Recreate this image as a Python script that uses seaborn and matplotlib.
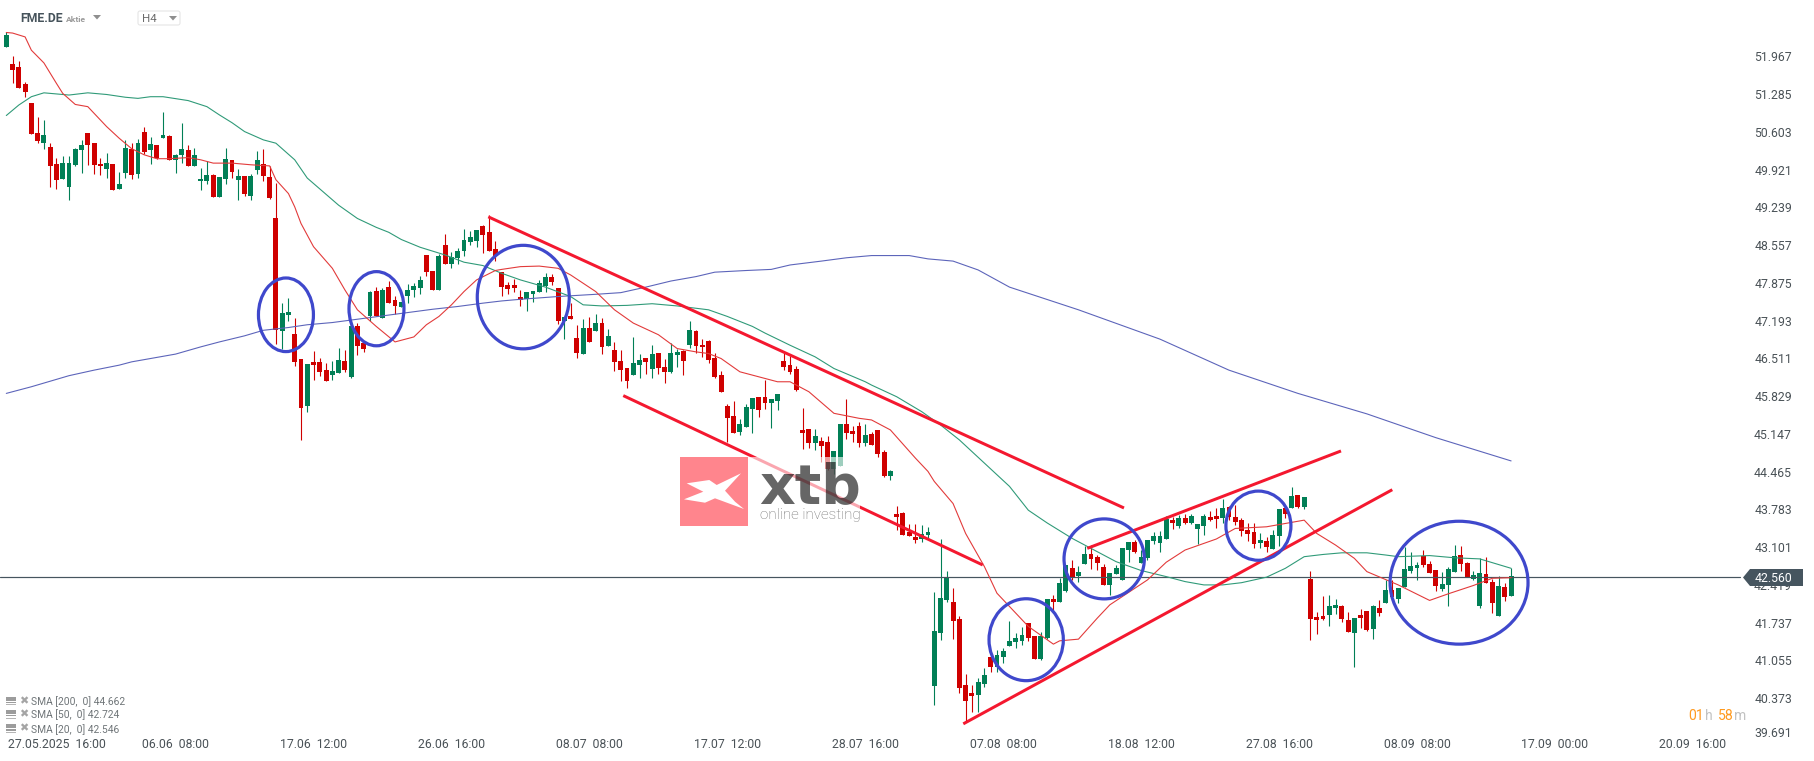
import matplotlib
matplotlib.use("Agg")
import matplotlib.pyplot as plt
import matplotlib.transforms as mtransforms
from matplotlib.patches import Ellipse, Polygon, Rectangle, FancyBboxPatch
import numpy as np
import pandas as pd
import seaborn as sns

WIDTH, HEIGHT = 1815, 761

opens = [
    52.14,51.83,51.78,51.47,51.13,50.58,50.41,50.33,50.03,49.75,
    49.61,50.01,50.27,50.59,50.40,50.02,49.94,50.02,49.58,49.87,
    50.30,49.85,50.60,50.27,50.37,50.50,50.53,50.10,50.19,50.28,
    49.99,49.71,49.72,49.83,49.43,49.76,50.10,49.74,49.81,49.45,
    49.92,50.02,49.79,49.05,47.01,47.30,46.95,46.50,45.66,46.45,
    46.45,46.30,46.21,46.24,46.47,46.18,47.10,46.79,47.28,47.73,
    47.25,47.80,47.57,47.44,47.64,47.75,47.78,48.38,48.09,47.75,
    48.56,48.22,48.33,48.45,48.61,48.63,48.90,48.80,48.49,48.08,
    47.84,47.84,47.62,47.58,47.67,47.71,47.82,47.98,47.78,47.19,
    47.28,46.88,46.59,47.06,47.01,47.15,46.74,46.66,46.47,46.34,
    46.21,46.39,46.52,46.32,46.61,46.36,46.27,46.57,46.65,46.75,
    47.01,46.75,46.83,46.52,46.21,45.65,45.47,45.18,45.27,45.60,
    45.82,45.82,45.71,45.74,46.47,46.39,46.32,45.22,45.24,44.98,
    45.02,45.00,44.51,44.56,45.33,45.20,45.29,44.98,45.15,45.22,
    44.82,44.39,43.70,43.72,43.38,43.29,43.25,43.32,40.60,41.55,
    42.14,42.11,41.80,40.61,40.47,40.43,40.63,41.12,40.94,41.12,
    41.32,41.39,41.41,41.73,41.50,41.08,41.46,42.17,42.11,42.31,
    42.73,42.58,42.80,42.98,42.92,42.74,42.42,42.62,42.51,43.05,
    43.20,42.82,42.91,43.21,43.18,43.25,43.59,43.48,43.63,43.54,
    43.43,43.48,43.65,43.66,43.63,43.83,43.65,43.59,43.41,43.38,
    43.18,43.21,43.07,43.30,43.81,43.81,44.04,43.83,42.53,41.84,
    41.86,41.88,42.00,42.04,41.79,41.55,41.88,41.95,41.62,42.00,
    42.09,42.33,42.17,42.38,42.67,42.73,42.94,42.80,42.69,42.35,
    42.42,42.65,42.96,42.82,42.53,42.04,42.62,42.47,41.86,42.38,42.22,
]
highs = [
    52.40,51.97,51.89,51.51,51.13,50.87,50.82,50.40,50.13,50.17,
    50.17,50.31,50.46,50.59,50.40,50.13,50.22,50.02,49.88,50.46,
    50.40,50.47,50.69,50.51,50.37,50.96,50.55,50.20,50.77,50.37,
    50.31,49.95,50.08,49.84,49.79,50.31,50.10,49.93,49.81,49.84,
    50.26,50.30,49.99,49.68,47.51,47.60,47.24,46.50,46.41,46.65,
    46.52,46.43,46.47,46.70,46.66,47.10,47.15,46.79,47.73,47.80,
    47.78,47.91,47.64,47.53,47.86,47.87,48.00,48.38,48.09,48.40,
    48.76,48.43,48.51,48.85,48.81,48.83,48.92,49.10,48.63,48.08,
    47.89,47.95,47.75,47.71,47.73,47.93,48.06,48.04,47.78,47.26,
    47.51,47.11,47.22,47.26,47.31,47.24,47.04,46.81,46.66,46.34,
    46.90,46.59,46.52,46.75,46.61,46.50,46.79,46.68,46.66,47.19,
    47.03,46.86,46.84,46.61,46.29,45.69,45.74,45.42,45.69,45.80,
    45.82,46.12,45.78,45.87,46.61,46.56,46.38,45.62,45.24,45.24,
    45.09,45.11,44.84,45.33,45.78,45.29,45.36,45.33,45.18,45.22,
    44.86,44.50,43.85,43.74,43.52,43.52,43.50,43.47,42.29,43.25,
    42.67,42.36,41.86,40.81,40.61,40.74,40.92,41.12,41.24,41.28,
    41.77,41.55,41.66,41.73,41.50,41.57,42.17,42.24,42.55,42.78,
    42.87,42.76,43.12,43.14,42.96,42.80,42.63,42.78,43.09,43.20,
    43.23,43.05,43.23,43.38,43.39,43.66,43.65,43.68,43.70,43.70,
    43.52,43.70,43.76,43.81,43.97,43.85,43.86,43.63,43.54,43.54,
    43.36,43.29,43.41,43.79,43.81,44.19,44.04,44.01,42.67,41.93,
    42.22,42.24,42.17,42.06,41.93,41.82,41.99,41.95,42.06,42.15,
    42.51,42.51,42.36,43.11,43.01,42.83,43.05,42.85,42.69,42.65,
    42.74,43.14,43.12,42.83,42.67,42.91,42.92,42.53,42.58,42.45,42.73,
]
lows = [
    52.13,51.49,51.40,51.24,50.57,50.41,50.30,49.61,49.58,49.75,
    49.38,49.99,49.87,50.01,49.84,49.83,49.77,49.56,49.58,49.78,
    49.76,49.78,50.21,50.03,50.11,50.50,50.09,49.87,50.05,49.99,
    49.99,49.55,49.67,49.42,49.43,49.67,49.77,49.38,49.45,49.38,
    49.85,49.72,49.40,46.77,46.69,47.19,46.38,45.04,45.55,46.13,
    46.19,46.11,46.13,46.24,46.27,46.15,46.58,46.63,47.18,47.28,
    47.25,47.52,47.31,47.44,47.51,47.62,47.68,48.00,47.75,47.75,
    48.22,48.15,48.22,48.36,48.56,48.52,48.42,48.45,48.27,47.64,
    47.68,47.71,47.45,47.37,47.53,47.71,47.71,47.84,47.13,46.86,
    47.22,46.52,46.59,46.81,47.01,46.59,46.74,46.29,46.10,45.98,
    46.21,46.16,46.23,46.16,46.23,46.07,46.25,46.36,46.21,46.70,
    46.61,46.54,46.43,46.16,45.91,45.00,45.16,45.13,45.27,45.16,
    45.45,45.60,45.26,45.58,46.30,46.23,45.92,44.88,44.89,44.86,
    44.64,44.50,44.42,44.56,45.06,45.00,44.91,44.93,44.95,44.73,
    44.37,44.32,43.41,43.32,43.30,43.18,43.20,43.27,40.25,41.42,
    42.12,41.44,40.47,39.94,40.12,40.12,40.58,40.85,40.85,41.01,
    41.32,41.28,41.33,41.41,41.08,41.06,41.44,41.95,42.11,42.29,
    42.51,42.47,42.80,42.71,42.69,42.42,42.24,42.62,42.51,42.83,
    42.99,42.82,42.87,43.16,43.01,43.25,43.43,43.45,43.52,43.52,
    43.16,43.32,43.57,43.45,43.54,43.59,43.50,43.30,43.21,43.09,
    43.09,43.01,43.07,43.12,43.63,43.81,43.81,43.79,41.43,41.53,
    41.79,41.68,41.89,41.75,41.57,40.94,41.64,41.59,41.44,41.86,
    42.09,42.15,42.09,42.38,42.63,42.51,42.74,42.63,42.31,42.31,
    42.04,42.65,42.67,42.56,42.51,42.00,42.45,41.91,41.86,42.13,42.22,
]
closes = [
    52.36,51.73,51.40,51.33,50.57,50.44,50.55,49.99,49.74,50.04,
    50.04,50.30,50.37,50.37,50.01,49.98,50.04,49.56,49.66,50.31,
    49.83,50.40,50.25,50.39,50.13,50.55,50.09,50.19,50.30,49.99,
    50.19,49.75,49.83,49.43,49.79,50.11,49.88,49.81,49.49,49.81,
    50.10,49.80,49.41,47.02,47.33,47.35,46.45,45.62,46.41,46.39,
    46.27,46.11,46.28,46.48,46.30,47.10,46.74,46.69,47.71,47.28,
    47.75,47.52,47.45,47.53,47.75,47.82,47.93,48.07,47.75,48.36,
    48.22,48.34,48.45,48.65,48.71,48.83,48.74,48.45,48.36,47.80,
    47.77,47.78,47.57,47.71,47.73,47.87,47.98,47.89,47.19,47.26,
    47.22,46.61,47.06,46.81,47.15,46.72,46.92,46.45,46.30,46.10,
    46.43,46.48,46.45,46.59,46.34,46.27,46.61,46.63,46.47,47.03,
    46.74,46.71,46.48,46.18,45.91,45.44,45.16,45.33,45.63,45.80,
    45.58,45.71,45.78,45.87,46.36,46.27,45.94,45.16,44.98,45.11,
    44.93,44.52,44.84,45.33,45.16,45.15,44.98,45.13,44.95,44.79,
    44.39,44.48,43.65,43.32,43.30,43.23,43.34,43.38,41.59,42.18,
    42.56,41.77,40.55,40.32,40.41,40.67,40.79,40.94,41.15,41.23,
    41.41,41.46,41.52,41.46,41.08,41.50,42.17,42.11,42.46,42.78,
    42.56,42.65,42.98,42.89,42.82,42.42,42.63,42.72,43.09,43.20,
    43.01,42.92,43.23,43.30,43.30,43.61,43.54,43.63,43.53,43.66,
    43.52,43.66,43.59,43.61,43.81,43.65,43.56,43.39,43.34,43.16,
    43.23,43.10,43.32,43.79,43.70,44.03,43.83,44.01,41.80,41.79,
    41.80,42.04,42.06,41.80,41.57,41.82,41.82,41.61,42.04,41.91,
    42.33,42.20,42.36,42.71,42.76,42.78,42.78,42.63,42.40,42.44,
    42.71,42.94,42.80,42.56,42.60,42.63,42.45,42.09,42.40,42.20,42.58,
]

sma20_idx = [0,1,3,4,6,8,9,11,13,14,16,18,20,22,24,26,29,31,33,36,39,42,43,45,46,47,49,52,54,56,59,62,65,67,69,71,73,75,78,79,
             82,85,88,90,94,97,100,104,107,110,112,114,117,120,123,125,128,132,136,138,141,145,147,148,151,153,156,158,161,163,
             167,168,171,174,176,180,182,185,188,193,196,201,207,209,212,215,217,222,227,230,234,237,240]
sma20 = [52.40,52.39,52.32,52.08,51.85,51.48,51.30,51.10,51.06,50.94,50.70,50.49,50.30,50.19,50.12,50.12,50.14,50.10,50.04,50.04,50.01,49.99,49.74,49.49,49.25,48.95,48.53,48.14,47.75,47.39,47.09,46.81,46.90,47.12,47.27,47.48,47.72,47.93,48.10,48.12,
         48.17,48.18,48.14,48.02,47.72,47.39,47.15,46.94,46.69,46.63,46.60,46.51,46.27,46.18,46.09,46.09,45.91,45.52,45.43,45.40,45.22,44.71,44.47,44.29,43.89,43.35,42.75,42.27,41.91,41.67,
         41.35,41.41,41.44,41.82,42.06,42.36,42.51,42.83,43.05,43.25,43.44,43.47,43.59,43.35,43.14,42.90,42.66,42.42,42.14,42.26,42.41,42.54,42.55]

sma50_idx = [0,2,4,6,10,13,16,19,21,23,25,29,32,34,36,38,41,43,46,48,53,56,59,61,63,66,70,73,76,79,82,86,90,92,95,99,103,107,112,115,119,121,
             125,129,132,137,138,142,146,149,152,156,160,163,166,170,174,177,181,185,188,191,194,197,201,204,207,210,213,217,220,222,227,231,235,240]
sma50 = [50.90,51.09,51.24,51.31,51.27,51.31,51.28,51.23,51.21,51.24,51.24,51.17,51.06,50.91,50.77,50.61,50.46,50.40,50.10,49.77,49.28,49.04,48.88,48.79,48.66,48.52,48.38,48.25,48.19,48.05,47.93,47.80,47.63,47.48,47.46,47.47,47.50,47.46,47.39,47.27,47.09,46.97,
         46.75,46.54,46.33,46.09,46.03,45.82,45.55,45.31,45.04,44.62,44.20,43.77,43.54,43.26,43.02,42.84,42.68,42.57,42.48,42.42,42.42,42.46,42.56,42.72,42.93,42.97,43.00,43.00,42.96,42.93,42.95,42.91,42.89,42.72]

sma200_idx = [0,4,7,10,14,18,20,23,27,31,34,38,41,45,48,52,56,60,64,68,72,76,79,82,88,94,98,102,106,110,113,118,122,125,130,134,138,144,147,151,155,160,171,184,195,206,217,228,240]
sma200 = [45.88,46.00,46.10,46.20,46.30,46.39,46.45,46.51,46.59,46.72,46.81,46.92,47.02,47.07,47.12,47.16,47.22,47.28,47.34,47.40,47.45,47.51,47.55,47.58,47.63,47.67,47.70,47.80,47.91,47.99,48.07,48.10,48.12,48.20,48.27,48.33,48.37,48.37,48.31,48.27,48.11,47.80,47.39,46.86,46.30,45.88,45.51,45.08,44.66]

y_ticks = [51.967,51.285,50.603,49.921,49.239,48.557,47.875,47.193,46.511,45.829,45.147,44.465,43.783,43.101,42.419,41.737,41.055,40.373,39.691]
x_tick_idx = [8,27,49,71,93,115,137,159,181,203,225,247,269]
x_tick_labels = ["27.05.2025  16:00","06.06  08:00","17.06  12:00","26.06  16:00","08.07  08:00","17.07  12:00",
                 "28.07  16:00","07.08  08:00","18.08  12:00","27.08  16:00","08.09  08:00","17.09  00:00","20.09  16:00"]
last_price = 42.56

# trend lines: idx start, price start, idx end, price end
trend_lines = [
    (76.87,49.07,178.26,43.81),
    (98.4,45.84,155.73,42.78),
    (152.63,39.91,221.05,44.14),
    (172.4,43.08,212.87,44.84),
]
# circles: idx, price, width in candles, height in price
circles = [
    (44.6,47.30,8.77,1.33),
    (59.04,47.41,8.77,1.34),
    (82.45,47.62,14.67,1.87),
    (162.66,41.43,11.85,1.48),
    (175.1,42.89,12.81,1.445),
    (199.7,43.49,10.37,1.25),
    (231.7,42.46,22.0,2.22),
]

RED = "#cf0000"
GREEN = "#017f56"
LINE_RED = "#e23a3a"
LINE_GREEN = "#2f9a78"
LINE_BLUE = "#5c64ba"
TREND = "#f4182f"
CIRCLE = "#3f48cc"
TEXT = "#4a5257"
FONT = "Roboto"


def px(n):
    return n * 72 / 100


sns.set_theme(style="white")
plt.rcParams["font.family"] = [FONT, "DejaVu Sans"]

df = pd.DataFrame({"open": opens, "high": highs, "low": lows, "close": closes})
df["idx"] = np.arange(len(df))
df["up"] = df["close"] >= df["open"]

fig = plt.figure(figsize=(WIDTH / 100, HEIGHT / 100), dpi=100, facecolor="white")
ax = fig.add_axes([0, 0, 1, 1])

colors = df["up"].map({True: GREEN, False: RED})
ax.vlines(df["idx"], df["low"], df["high"], colors=colors, linewidth=px(1.1), zorder=2)
ax.bar(df["idx"], (df["close"] - df["open"]).abs(), bottom=df[["open", "close"]].min(axis=1),
       width=0.78, color=colors, linewidth=0, zorder=3)

ax.axhline(last_price, color="#46555f", linewidth=px(1.2), zorder=4, xmax=1740 / WIDTH)

for xs, ys, col in [(sma200_idx, sma200, LINE_BLUE), (sma50_idx, sma50, LINE_GREEN), (sma20_idx, sma20, LINE_RED)]:
    sns.lineplot(x=xs, y=ys, ax=ax, color=col, linewidth=px(1.1), estimator=None, sort=False, legend=False, zorder=5)

for x0, y0, x1, y1 in trend_lines:
    ax.plot([x0, x1], [y0, y1], color=TREND, linewidth=px(3), solid_capstyle="butt", zorder=6)
for cx, cy, w, h in circles:
    ax.add_patch(Ellipse((cx, cy), w, h, fill=False, edgecolor=CIRCLE, linewidth=px(3.2), zorder=7))

ax.set_xlim(-6.3 / 6.27, (WIDTH - 6.3) / 6.27)
ax.set_ylim(52.987 - 0.018066 * HEIGHT, 52.987)
ax.set_xlabel("")
ax.set_ylabel("")
for spine in ax.spines.values():
    spine.set_visible(False)

ax.yaxis.tick_right()
ax.set_yticks(y_ticks)
ax.set_yticklabels([f"{v:.3f}" for v in y_ticks], ha="right", color=TEXT, fontsize=px(12.2))
ax.tick_params(axis="y", length=0, pad=-px(WIDTH - 1792))
ax.set_xticks(x_tick_idx)
ax.set_xticklabels(x_tick_labels, color=TEXT, fontsize=px(12.2))
ax.tick_params(axis="x", length=0, pad=-px(23))
# lowest label sits a bit higher than its tick, like in the platform
low_label = ax.get_yticklabels()[-1]
low_label.set_transform(low_label.get_transform() + mtransforms.ScaledTranslation(0, 4.3 / 100, fig.dpi_scale_trans))

# platform overlay, in screen pixels
ui = fig.add_axes([0, 0, 1, 1], zorder=5)
ui.set_xlim(0, WIDTH)
ui.set_ylim(HEIGHT, 0)
ui.axis("off")
ui.patch.set_alpha(0)

# watermark
ui.add_patch(Rectangle((680, 457), 180, 69.5, facecolor="white", alpha=0.62, linewidth=0))
ui.add_patch(Rectangle((680, 457.3), 68.3, 68.7, facecolor="#ff858d", linewidth=0))
logo_x = [684.0,703.3,686.7,709.3,716.7,741.0,725.0,735.0,744.0,715.0,705.0]
logo_y = [499.3,491.7,483.3,480.0,485.0,473.3,490.7,501.7,509.0,498.3,502.7]
ui.add_patch(Polygon(list(zip(logo_x, logo_y)), closed=True, facecolor="white", linewidth=0))
ui.text(759, 503, "xtb", family="DejaVu Sans", fontweight="bold", fontsize=px(55.5), color="black", alpha=0.6, ha="left", va="baseline")
ui.text(760, 519.5, "online investing", fontsize=px(15.3), color="#707070", fontweight="light", ha="left", va="baseline")

# header
ui.text(20, 19, "FME.DE", fontsize=px(12.3), fontweight="bold", color="#46535b", va="center", ha="left")
ui.text(66, 19.5, "Aktie", fontsize=px(8.5), fontweight="bold", color="#9a9a9a", va="center", ha="left")
ui.add_patch(Polygon([(93, 15), (101, 15), (97, 19.5)], facecolor="#8f8f8f", linewidth=0))
ui.add_patch(FancyBboxPatch((138, 11), 42, 14, boxstyle="round,pad=0,rounding_size=2", facecolor="white", edgecolor="#e3e3e3", linewidth=px(1)))
ui.text(142.5, 19.5, "H4", fontsize=px(11.5), color="#6b6b6b", va="center", ha="left")
ui.add_patch(Polygon([(169, 16), (177, 16), (173, 20.5)], facecolor="#8f8f8f", linewidth=0))

# price tag
ui.add_patch(Polygon([(1743, 577.5), (1750, 569), (1803, 569), (1803, 586), (1750, 586)], facecolor="#46555f", linewidth=0))
ui.text(1792, 578.7, f"{last_price:.3f}", fontsize=px(12.2), color="white", ha="right", va="center")

# candle timer
ui.text(1688.7, 716, "01", fontsize=px(14), color="#ff9a1f", ha="left", va="center")
ui.text(1705, 716, "h", fontsize=px(14), color="#c2c2c2", ha="left", va="center")
ui.text(1718, 716, "58", fontsize=px(14), color="#ff9a1f", ha="left", va="center")
ui.text(1734, 716, "m", fontsize=px(14), color="#c2c2c2", ha="left", va="center")

# indicator legend
legend_rows = [("SMA [200,  0] 44.662", 701.7), ("SMA [50,  0] 42.724", 715.0), ("SMA [20,  0] 42.546", 729.3)]
for label, y in legend_rows:
    ui.add_patch(Rectangle((6, y - 5), 10, 4, facecolor="#9c9c9c", linewidth=0))
    ui.add_patch(Rectangle((6, y), 10, 1.2, facecolor="#9c9c9c", linewidth=0))
    ui.add_patch(Rectangle((6, y + 2.5), 10, 1.2, facecolor="#b5b5b5", linewidth=0))
    ui.text(23.5, y - 0.5, "\u2716", family="DejaVu Sans", fontsize=px(11), color="#a5a5a5", ha="center", va="center")
    ui.text(31, y, label, fontsize=px(10.2), color="#6f7578", ha="left", va="center")

fig.savefig("out.png", dpi=100, facecolor="white")
plt.close(fig)
